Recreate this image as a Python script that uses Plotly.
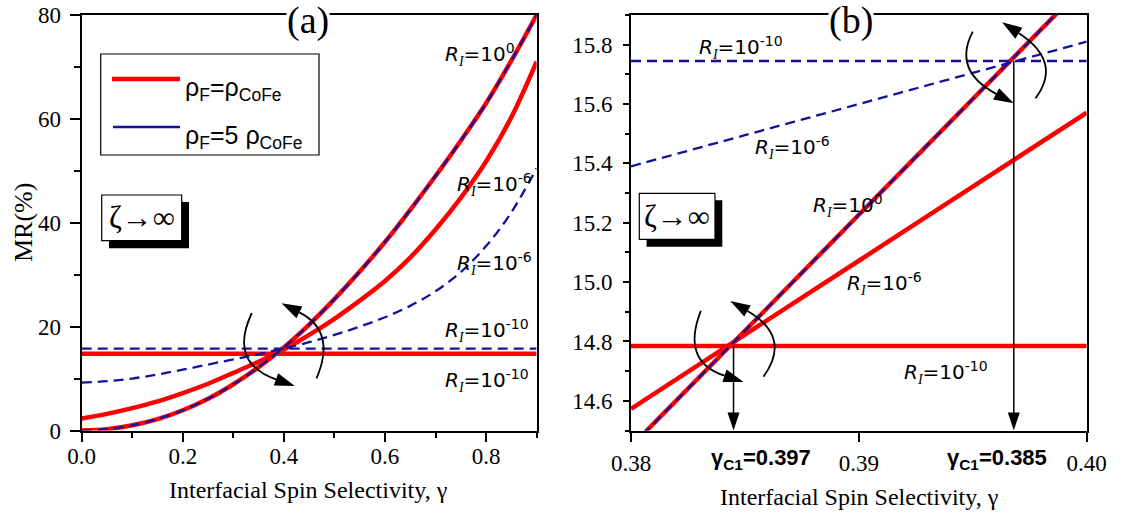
import math
import plotly.graph_objects as go

# ---------------- data ----------------
# panel (a): MR(%) versus interfacial spin selectivity over the full range
gamma_a = [0.00, 0.05, 0.10, 0.15, 0.20, 0.25, 0.30, 0.35, 0.40, 0.45,
           0.50, 0.55, 0.60, 0.65, 0.70, 0.75, 0.80, 0.85, 0.90]
# R_I = 10^0 (identical for rho_F = rho_CoFe and rho_F = 5 rho_CoFe)
mr_a_r0 = [0.0, 0.25, 1.0, 2.2, 3.9, 6.1, 8.9, 12.2, 16.0, 20.4,
           25.3, 30.6, 36.3, 42.5, 49.0, 55.8, 63.0, 71.2, 80.0]
# R_I = 10^-6
mr_a_r6_rho1 = [2.3, 3.2, 4.3, 5.6, 7.2, 9.0, 11.1, 13.25, 15.6, 18.4,
                21.5, 25.0, 28.8, 33.3, 38.7, 44.8, 51.8, 60.3, 71.0]
mr_a_r6_rho5 = [9.2, 9.5, 10.0, 10.8, 11.7, 12.7, 13.7, 14.7, 15.8, 17.0,
                18.4, 20.0, 21.8, 24.0, 26.8, 30.5, 35.5, 42.0, 50.5]
# R_I = 10^-10 (independent of gamma)
mr_r10_rho1 = 14.785
mr_r10_rho5 = 15.745

# panel (b): close-up around the crossing points
gamma_b = [0.380, 0.385, 0.390, 0.395, 0.400]
mr_b_r0 = [14.446, 14.836, 15.227, 15.617, 16.008]
mr_b_r6_rho1 = [14.573, 14.823, 15.072, 15.322, 15.571]
mr_b_r6_rho5 = [15.390, 15.495, 15.600, 15.705, 15.810]

# crossing points marked with vertical arrows, and their printed labels
gamma_c1_pos = [0.3845, 0.3968]
mr_c1_pos = [mr_r10_rho1, mr_r10_rho5]
gamma_c1_text = ["0.397", "0.385"]
gamma_c1_label_x = [0.38571, 0.39606]

# ---------------- styling ----------------
W, H = 1122, 520
RED = "#FF0000"
BLUE = "#12129A"
SERIF = "Liberation Serif, Times New Roman, serif"
SANS = "Liberation Sans, Arial, sans-serif"
DASH = "10px,6px"


def px(x, y):
    """figure pixel -> paper fraction"""
    return x / W, 1 - y / H


fig = go.Figure()


def red(x, y, xa, ya, name):
    fig.add_trace(go.Scatter(x=x, y=y, mode="lines", xaxis=xa, yaxis=ya, name=name,
                             line=dict(color=RED, width=4.5, shape="spline")))


def blue(x, y, xa, ya, name):
    fig.add_trace(go.Scatter(x=x, y=y, mode="lines", xaxis=xa, yaxis=ya, name=name,
                             line=dict(color=BLUE, width=2.3, dash=DASH, shape="spline")))


# panel (a)
red(gamma_a, mr_a_r0, "x", "y", "ρF=ρCoFe, RI=1")
red(gamma_a, mr_a_r6_rho1, "x", "y", "ρF=ρCoFe, RI=1e-6")
red([gamma_a[0], gamma_a[-1]], [mr_r10_rho1] * 2, "x", "y", "ρF=ρCoFe, RI=1e-10")
blue(gamma_a, mr_a_r0, "x", "y", "ρF=5ρCoFe, RI=1")
blue(gamma_a, mr_a_r6_rho5, "x", "y", "ρF=5ρCoFe, RI=1e-6")
blue([gamma_a[0], gamma_a[-1]], [mr_r10_rho5] * 2, "x", "y", "ρF=5ρCoFe, RI=1e-10")

# panel (b)
red(gamma_b, mr_b_r0, "x2", "y2", "ρF=ρCoFe, RI=1")
red(gamma_b, mr_b_r6_rho1, "x2", "y2", "ρF=ρCoFe, RI=1e-6")
red([gamma_b[0], gamma_b[-1]], [mr_r10_rho1] * 2, "x2", "y2", "ρF=ρCoFe, RI=1e-10")
blue(gamma_b, mr_b_r0, "x2", "y2", "ρF=5ρCoFe, RI=1")
blue(gamma_b, mr_b_r6_rho5, "x2", "y2", "ρF=5ρCoFe, RI=1e-6")
blue([gamma_b[0], gamma_b[-1]], [mr_r10_rho5] * 2, "x2", "y2", "ρF=5ρCoFe, RI=1e-10")


def axis_style():
    return dict(showline=True, linecolor="black", linewidth=2, mirror=True, automargin=False,
                showgrid=False, zeroline=False, ticks="outside", tickwidth=1.5,
                tickcolor="black", tickfont=dict(family=SERIF, size=23, color="black"))


ydom = [1 - 430.5 / H, 1 - 15 / H]
fig.update_layout(
    width=W, height=H, margin=dict(l=0, r=0, t=0, b=0, pad=0, autoexpand=False),
    font=dict(family=SERIF, size=23, color="black"),
    paper_bgcolor="white", plot_bgcolor="white", showlegend=False,
    xaxis=dict(domain=[81.7 / W, 536.6 / W], range=[0, 0.9], tick0=0, dtick=0.2,
               tickformat=".1f", ticklen=9, ticklabelstandoff=-5,
               minor=dict(dtick=0.1, ticks="outside", ticklen=5, tickwidth=1.5, tickcolor="black"),
               **axis_style()),
    yaxis=dict(domain=ydom, range=[0, 80], tick0=0, dtick=20, ticklen=10,
               ticklabelstandoff=4,
               minor=dict(dtick=10, ticks="outside", ticklen=6, tickwidth=1.5, tickcolor="black"),
               **axis_style()),
    xaxis2=dict(domain=[631 / W, 1086.7 / W], range=[0.38, 0.40], tick0=0.38, dtick=0.01,
                tickformat=".2f", ticklen=9, ticklabelstandoff=2, anchor="y2", **axis_style()),
    yaxis2=dict(domain=ydom, range=[14.5, 15.9], tick0=14.6, dtick=0.2, tickformat=".1f",
                ticklen=6, ticklabelstandoff=6, anchor="x2",
                minor=dict(tick0=14.5, dtick=0.1, ticks="outside", ticklen=4, tickwidth=1.5,
                           tickcolor="black"),
                **axis_style()),
)

shapes = []
ann = []


def paper_rect(x0, y0, x1, y1, fill, lw=1.2):
    a0, b0 = px(x0, y0)
    a1, b1 = px(x1, y1)
    shapes.append(dict(type="rect", xref="paper", yref="paper", x0=a0, x1=a1, y0=b1, y1=b0,
                       fillcolor=fill, line=dict(color="black", width=lw)))


def paper_line(x0, y0, x1, y1, color, width):
    a0, b0 = px(x0, y0)
    a1, b1 = px(x1, y1)
    shapes.append(dict(type="line", xref="paper", yref="paper", x0=a0, x1=a1, y0=b0, y1=b1,
                       line=dict(color=color, width=width)))


def head_path(tip, base_dir, length=20, width=13):
    """triangle in screen-pixel offsets (x right, y down); base_dir is unit vector tip->base"""
    tx, ty = tip
    ux, uy = base_dir
    bx, by = tx + ux * length, ty + uy * length
    nx, ny = -uy, ux
    p1 = (bx + nx * width / 2, by + ny * width / 2)
    p2 = (bx - nx * width / 2, by - ny * width / 2)
    pts = [(tx, ty), p1, p2]
    return "M" + "L".join(f"{x:.2f},{-y:.2f}" for x, y in pts) + "Z", (bx, by)


def curved_arrow(xref, yref, xa, ya, s, m, e):
    """quadratic arc through s, m (mid), ending with an arrowhead at e; pixel offsets"""
    cx = 2 * m[0] - (s[0] + e[0]) / 2
    cy = 2 * m[1] - (s[1] + e[1]) / 2
    dx, dy = cx - e[0], cy - e[1]
    d = math.hypot(dx, dy)
    tri, base = head_path(e, (dx / d, dy / d))
    opts = dict(xref=xref, yref=yref, xsizemode="pixel", ysizemode="pixel",
                xanchor=xa, yanchor=ya)
    shapes.append(dict(type="path", path=f"M{s[0]:.2f},{-s[1]:.2f} Q{cx:.2f},{-cy:.2f} "
                                         f"{base[0]:.2f},{-base[1]:.2f}",
                       line=dict(color="black", width=1.8), **opts))
    shapes.append(dict(type="path", path=tri, fillcolor="black", line=dict(width=0), **opts))


# rotation arrows around the crossing in (a)
curved_arrow("x", "y", 0.392, 15.5, (-28, -37), (-29, 6), (15, 36))
curved_arrow("x", "y", 0.392, 15.5, (36.7, 28.3), (38, -14), (1.7, -46.7))
# rotation arrows around both crossings in (b)
curved_arrow("x2", "y2", gamma_c1_pos[0], mr_c1_pos[0], (-32.7, -35), (-32, 8), (10, 36))
curved_arrow("x2", "y2", gamma_c1_pos[0], mr_c1_pos[0], (30, 30.7), (36, -8), (-3.3, -45))
curved_arrow("x2", "y2", gamma_c1_pos[1], mr_c1_pos[1], (-41, -29.3), (-41, 8), (0, 42.3))
curved_arrow("x2", "y2", gamma_c1_pos[1], mr_c1_pos[1], (21.7, 37.3), (27, 0), (-11.7, -38.7))

# vertical drop arrows marking gamma_C1
for g, m, t, lx in zip(gamma_c1_pos, mr_c1_pos, gamma_c1_text, gamma_c1_label_x):
    shapes.append(dict(type="line", xref="x2", yref="y2", x0=g, x1=g, y0=m, y1=14.5 + 0.055,
                       line=dict(color="black", width=1.5)))
    tri, _ = head_path((0, 0), (0, -1), length=18, width=12)
    shapes.append(dict(type="path", xref="x2", yref="y2", xsizemode="pixel", ysizemode="pixel",
                       xanchor=g, yanchor=14.5, path=tri, fillcolor="black", line=dict(width=0)))
    ann.append(dict(xref="x2", yref="paper", x=lx, y=1 - 459 / H, xanchor="center",
                    yanchor="middle", showarrow=False,
                    text="<b>γ<sub>C1</sub>=" + t + "</b>",
                    font=dict(family=SANS, size=22, color="black")))

# legend box of panel (a)
paper_rect(100.7, 54, 319, 155, "white")
paper_line(112, 79, 180, 79, RED, 4.5)
paper_line(113, 127, 180, 127, BLUE, 2.5)
for yy, txt in [(89, "ρ<sub>F</sub>=ρ<sub>CoFe</sub>"), (137, "ρ<sub>F</sub>=5 ρ<sub>CoFe</sub>")]:
    a, b = px(183, yy)
    ann.append(dict(xref="paper", yref="paper", x=a, y=b, xanchor="left", yanchor="middle",
                    showarrow=False, text=txt, font=dict(family=SANS, size=25, color="black")))

# zeta -> infinity boxes with drop shadow
for (x0, y0, x1, y1) in [(101.7, 195, 181.7, 240.7), (639.3, 193.3, 715, 239.3)]:
    paper_rect(x0 + 7.3, y0 + 7, x1 + 7.3, y1 + 7.5, "black", lw=0)
    paper_rect(x0, y0, x1, y1, "white", lw=1.2)
    a, b = px((x0 + x1) / 2, (y0 + y1) / 2)
    ann.append(dict(xref="paper", yref="paper", x=a, y=b, xanchor="center", yanchor="middle",
                    showarrow=False, text="ζ→∞", font=dict(family=SERIF, size=31, color="black")))


def ri(exp):
    return ('<i>R</i><sub><span style="font-family:Liberation Serif"><i>I</i></span></sub>'
            f"=10<sup>{exp}</sup>")


ri_font = dict(family="DejaVu Sans", size=20, color="black")
labels_a = [(0.7147, 72.4, "0"), (0.7385, 47.4, "-6"), (0.7385, 32.1, "-6"),
            (0.7147, 19.3, "-10"), (0.7147, 9.7, "-10")]
for x, y, e in labels_a:
    ann.append(dict(xref="x", yref="y", x=x, y=y, xanchor="left", yanchor="middle",
                    showarrow=False, text=ri(e), font=ri_font))
labels_b = [(0.38290, 15.790, "-10"), (0.38535, 15.455, "-6"), (0.38790, 15.259, "0"),
            (0.38940, 14.994, "-6"), (0.39190, 14.694, "-10")]
for x, y, e in labels_b:
    ann.append(dict(xref="x2", yref="y2", x=x, y=y, xanchor="left", yanchor="middle",
                    showarrow=False, text=ri(e), font=ri_font))

# panel tags sitting on the top frame
for cx, tag in [(308, "(a)"), (851, "(b)")]:
    a, b = px(cx, 21)
    ann.append(dict(xref="paper", yref="paper", x=a, y=b, xanchor="center", yanchor="middle",
                    showarrow=False, text=tag, bgcolor="white", borderpad=0,
                    font=dict(family=SERIF, size=38, color="black")))

# axis titles
a, b = px(23, 223)
ann.append(dict(xref="paper", yref="paper", x=a, y=b, textangle=-90, showarrow=False,
                xanchor="center", yanchor="middle", text="MR(%)",
                font=dict(family=SERIF, size=26, color="black")))
for cx, cy in [(308, 490), (859, 497)]:
    a, b = px(cx, cy)
    ann.append(dict(xref="paper", yref="paper", x=a, y=b, showarrow=False, xanchor="center",
                    yanchor="middle", text="Interfacial Spin Selectivity, γ",
                    font=dict(family=SERIF, size=24, color="black")))

fig.update_layout(shapes=shapes, annotations=ann)
fig.write_html("out.html")
